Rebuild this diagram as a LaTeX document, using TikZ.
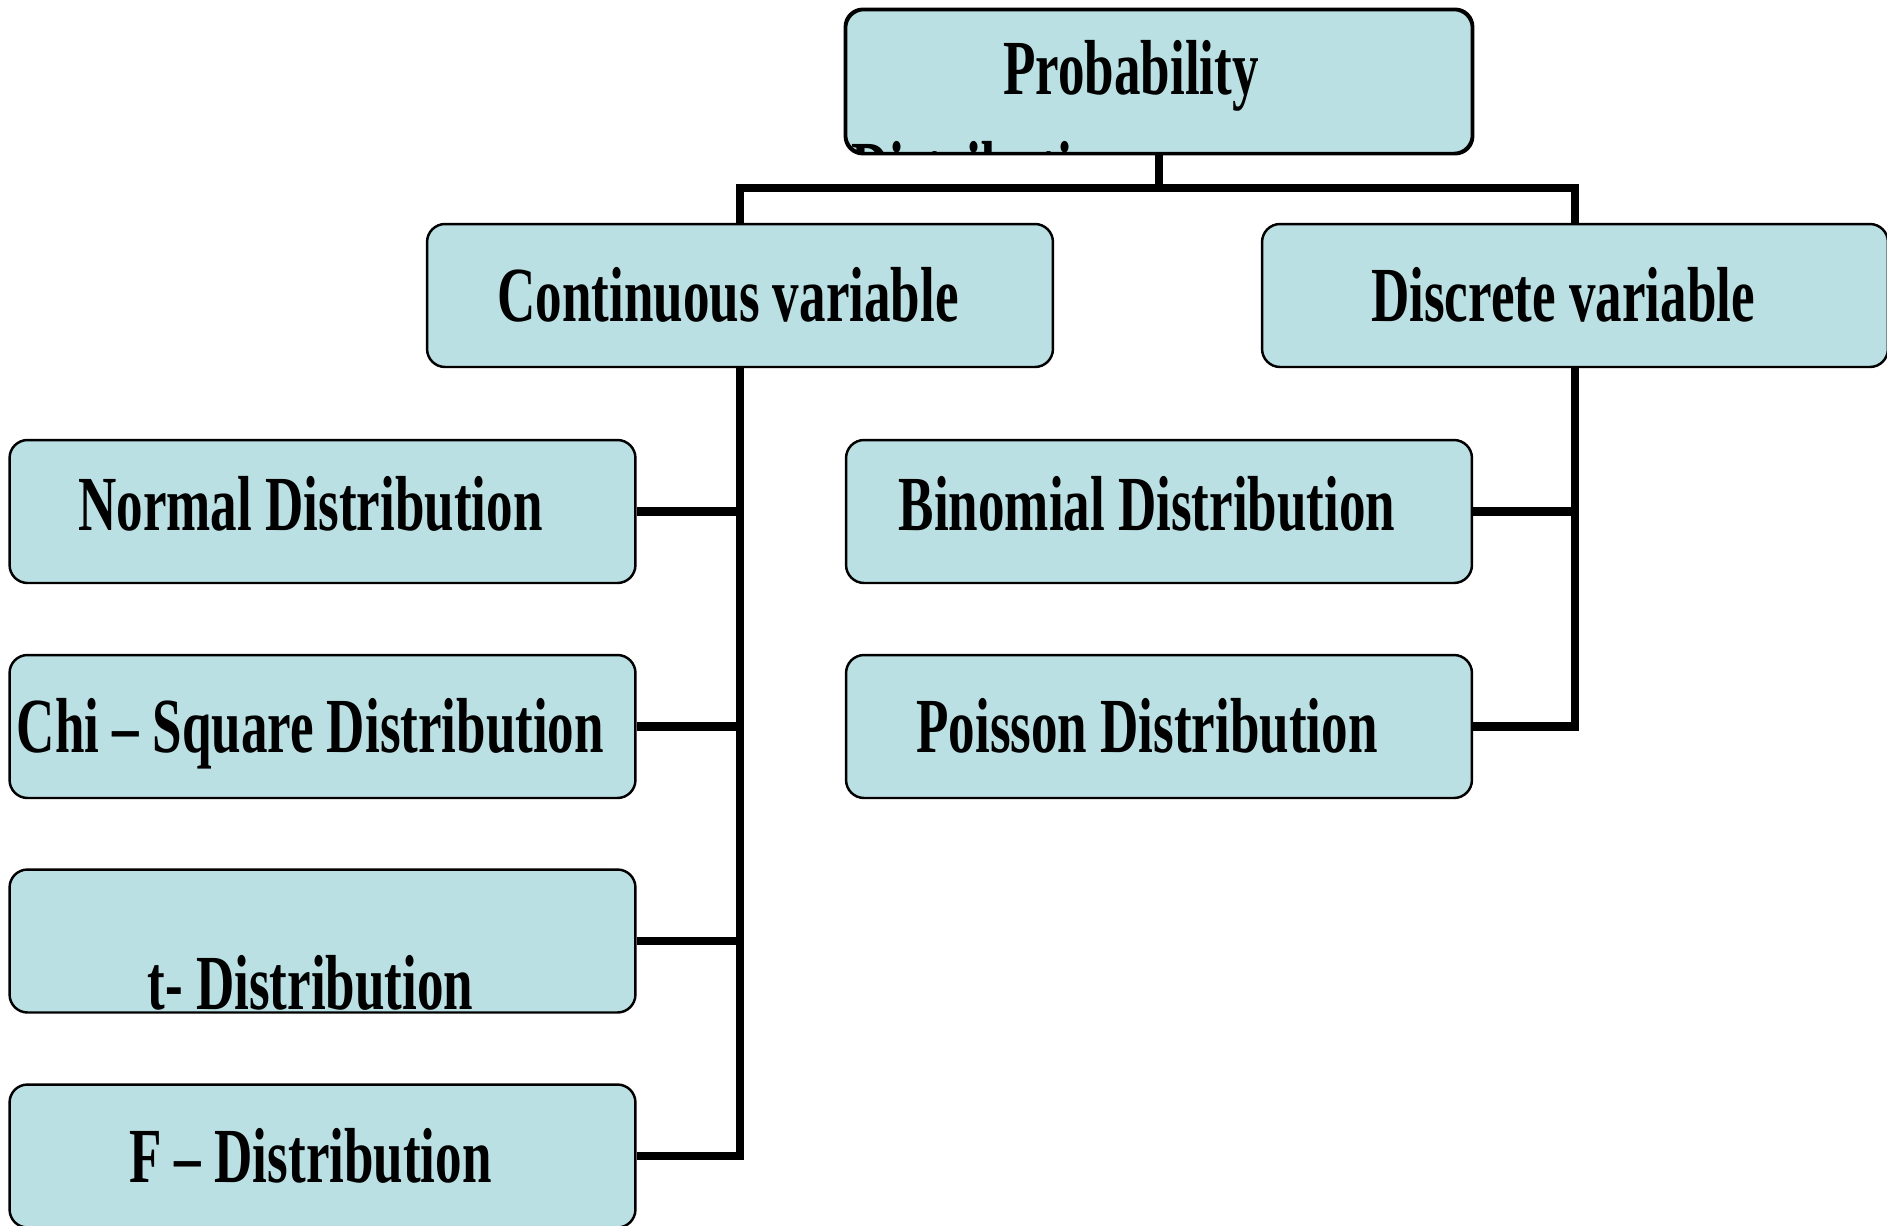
\documentclass[tikz,border=0pt]{standalone}
\usepackage{fontspec}
\setmainfont[FakeStretch=0.68]{Liberation Serif}
\definecolor{boxfill}{HTML}{BBE0E3}

\begin{document}
\begin{tikzpicture}[x=0.02cm, y=-0.02cm,
    txt/.style={font=\fontsize{44.4}{51}\selectfont\bfseries, inner sep=0pt},
    box/.style={txt, draw=black, line width=1.4pt, fill=boxfill, rounded corners=0.36cm,
      minimum width=12.52cm, minimum height=2.86cm, text height=31pt, text depth=1pt,
      execute at end node=\hspace*{0.48cm}},
    conn/.style={line width=4.6pt}]

        \clip (0, 0) rectangle (1887, 1225);

        \node[box] (prob) at (1159, 81.5) {};
        \begin{scope}
          \clip[rounded corners=0.36cm] (prob.south west) rectangle (prob.north east);
          \node[txt, anchor=base] (probtxt) at (1131, 94) {Probability};
          \node[txt, anchor=base west] (disttxt) at (851, 195) {Distribution};
        \end{scope}
        \draw[line width=1.4pt, rounded corners=0.36cm] (prob.south west) rectangle (prob.north east);

        \node[box] (cont) at (740, 295.5) {Continuous variable};
        \node[box] (disc) at (1575, 295.5) {Discrete variable};

        \node[box, text depth=9pt] (normal) at (322.5, 511.5) {Normal Distribution};
        \node[box] (chisq) at (322.5, 726.5) {Chi -- Square Distribution};
        \node[box, text height=79pt] (tdist) at (322.5, 941) {t- Distribution};
        \node[box] (fdist) at (322.5, 1156) {F -- Distribution};

        \node[box, text depth=9pt] (binom) at (1159, 511.5) {Binomial Distribution};
        \node[box] (poisson) at (1159, 726.5) {Poisson Distribution};

        \draw[conn] (prob.south) -- ++(0, 34) -| (cont.north);
        \draw[conn] (prob.south) -- ++(0, 34) -| (disc.north);

        \draw[conn] (cont.south) |- (normal.east);
        \draw[conn] (cont.south) |- (chisq.east);
        \draw[conn] (cont.south) |- (tdist.east);
        \draw[conn] (cont.south) |- (fdist.east);

        \draw[conn] (disc.south) |- (binom.east);
        \draw[conn] (disc.south) |- (poisson.east);

      \end{tikzpicture}
\end{document}
